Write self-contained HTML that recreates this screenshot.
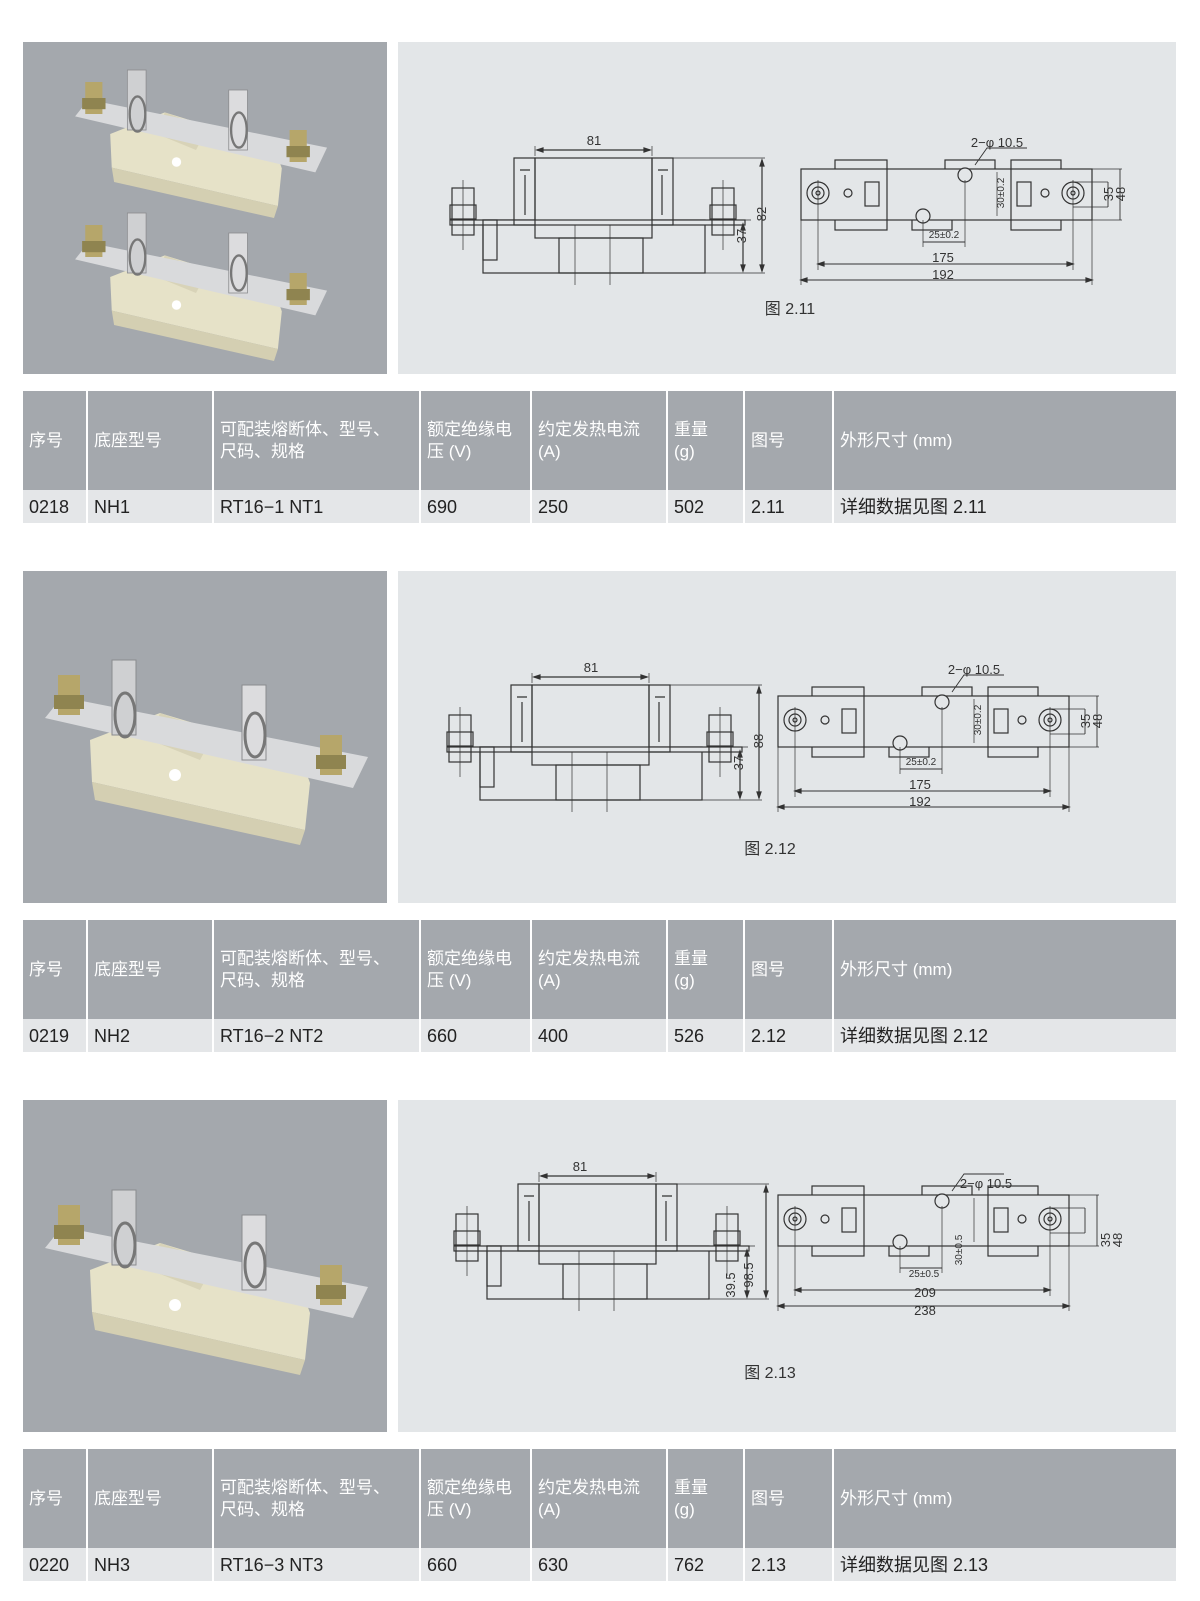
<!DOCTYPE html>
<html><head><meta charset="utf-8"><style>
body{margin:0;background:#fff;width:1200px;height:1601px;overflow:hidden;font-family:"Liberation Sans","Noto Sans CJK SC",sans-serif}
.ph{position:absolute;left:23px;width:364px;height:332px;background:#a4a8ad}
.dp{position:absolute;left:398px;width:778px;height:332px;background:#e3e6e8}
table{position:absolute;left:23px;width:1153px;border-collapse:collapse;table-layout:fixed}
td{border-left:2px solid #fff;padding:0 0 0 6px;vertical-align:middle;color:#fff;font-size:17px;line-height:22px;white-space:nowrap}
td:first-child{border-left:none}
tr.h td{background:#a4a8ad;height:99px}
tr.d td{background:#e4e6e8;height:33px;color:#222;font-size:18px}
svg{position:absolute;left:0;top:0}
</style></head><body>
<div class="ph" style="top:42px"></div><div class="dp" style="top:42px"></div>
<div class="ph" style="top:571px"></div><div class="dp" style="top:571px"></div>
<div class="ph" style="top:1100px"></div><div class="dp" style="top:1100px"></div>

<svg width="1200" height="1601" viewBox="0 0 1200 1601">
<defs>
<clipPath id="c1"><rect x="23" y="42" width="364" height="332"/></clipPath>
<g id="fz">
 <polygon points="90,740 160,713 300,755 310,783 305,830 92,782" fill="#e6e2c8"/>
 <polygon points="92,782 305,830 300,845 95,800" fill="#d4cfb2"/>
 <polygon points="160,713 215,732 200,760 150,740" fill="#d8d3b8"/>
 <circle cx="175" cy="775" r="6" fill="#fff"/><circle cx="230" cy="752" r="5" fill="#fff"/>
 <polygon points="45,718 62,697 368,757 353,788" fill="#d9dadc"/>
 <rect x="112" y="660" width="24" height="75" fill="#cfd0d2" stroke="#8a8b8e"/>
 <rect x="242" y="685" width="24" height="75" fill="#dcdcde" stroke="#8a8b8e"/>
 <ellipse cx="125" cy="715" rx="10" ry="22" fill="none" stroke="#777" stroke-width="3"/>
 <ellipse cx="255" cy="735" rx="10" ry="22" fill="none" stroke="#777" stroke-width="3"/>
 <rect x="58" y="675" width="22" height="40" fill="#b6a66a"/><rect x="54" y="695" width="30" height="14" fill="#8f8450"/>
 <rect x="320" y="735" width="22" height="40" fill="#b6a66a"/><rect x="316" y="755" width="30" height="14" fill="#8f8450"/>
</g>
<g id="lv" fill="none" stroke="#333" stroke-width="1.2">
 <rect x="83" y="100" width="222" height="53"/>
 <rect x="135" y="38" width="117" height="80" fill="#e3e6e8"/>
 <rect x="159" y="118" width="84" height="35"/>
 <rect x="50" y="100" width="295" height="5" fill="#e3e6e8"/>
 <rect x="114" y="38" width="21" height="67"/><rect x="252" y="38" width="21" height="67"/>
 <path d="M120 50h10M258 50h10M125 55v40M262 55v40"/>
 <rect x="52" y="68" width="22" height="47"/><rect x="312" y="68" width="22" height="47"/>
 <rect x="50" y="85" width="26" height="14"/><rect x="310" y="85" width="26" height="14"/>
 <rect x="83" y="100" width="14" height="40"/>
 <path d="M63 60v70M323 60v70M175 105v60M210 105v60" stroke-width="0.7"/>
 <path d="M135 36v-10M252 36v-10M273 38h92M305 153h60M345 100h6" stroke-width="0.7"/>
 <path d="M137 30h113M362 40v111M343 104v47"/>
 <path d="M137 30l6-2v4zM250 30l-6-2v4zM362 40l-2 6h4zM362 151l-2-6h4zM343 104l-2 6h4zM343 151l-2-6h4z" fill="#333"/>
</g>
<g id="rv" fill="none" stroke="#333" stroke-width="1.2">
 <rect x="435" y="40" width="52" height="70"/><rect x="611" y="40" width="50" height="70"/>
 <rect x="545" y="40" width="50" height="22"/><rect x="512" y="90" width="40" height="20"/>
 <rect x="401" y="49" width="291" height="51" fill="#e3e6e8"/>
 <path d="M487 49v51M611 49v51"/>
 <circle cx="418" cy="73" r="11"/><circle cx="418" cy="73" r="6"/><circle cx="418" cy="73" r="2"/>
 <circle cx="673" cy="73" r="11"/><circle cx="673" cy="73" r="6"/><circle cx="673" cy="73" r="2"/>
 <circle cx="448" cy="73" r="4"/><circle cx="645" cy="73" r="4"/>
 <rect x="465" y="62" width="14" height="24"/><rect x="617" y="62" width="14" height="24"/>
 <circle cx="565" cy="55" r="7" fill="#e3e6e8"/><circle cx="523" cy="96" r="7" fill="#e3e6e8"/>
 <path d="M418 60v90M673 60v90M401 100v65M692 49v116M523 100v27M565 60v67M597 52v44M692 49h30M692 100h30M673 62h35M673 87h35" stroke-width="0.7"/>
 <path d="M418 144h255M401 160h291M523 122h42M708 62v25M720 49v51M575 45l12-17h40" stroke-width="0.9"/>
 <path d="M418 144l6-2v4zM673 144l-6-2v4zM401 160l6-2v4zM692 160l-6-2v4z" fill="#333"/>
</g>
</defs>
<g clip-path="url(#c1)">
<g transform="translate(40,-458) scale(0.78,0.8)"><use href="#fz"/></g>
<g transform="translate(40,-315) scale(0.78,0.8)"><use href="#fz"/></g>
</g>
<use href="#fz"/>
<g transform="translate(0,530)"><use href="#fz"/></g>

<g transform="translate(400,120)"><use href="#lv"/><use href="#rv"/></g>
<g transform="translate(397,647)"><use href="#lv"/><use href="#rv" x="-20"/></g>
<g transform="translate(404,1146)"><use href="#lv"/><use href="#rv" x="-27"/></g>

<g font-family="Liberation Sans,sans-serif" fill="#333" font-size="13" text-anchor="middle">
 <text x="594" y="145">81</text><text x="997" y="147">2−φ 10.5</text>
 <text x="944" y="238" font-size="10">25±0.2</text><text x="943" y="262">175</text><text x="943" y="279">192</text>
 <text transform="translate(766,214) rotate(-90)">82</text><text transform="translate(746,236) rotate(-90)">37</text>
 <text transform="translate(1004,193) rotate(-90)" font-size="10">30±0.2</text>
 <text transform="translate(1113,194) rotate(-90)">35</text><text transform="translate(1125,194) rotate(-90)">48</text>
 <text x="591" y="672">81</text><text x="974" y="674">2−φ 10.5</text>
 <text x="921" y="765" font-size="10">25±0.2</text><text x="920" y="789">175</text><text x="920" y="806">192</text>
 <text transform="translate(763,741) rotate(-90)">88</text><text transform="translate(743,763) rotate(-90)">37</text>
 <text transform="translate(981,720) rotate(-90)" font-size="10">30±0.2</text>
 <text transform="translate(1090,721) rotate(-90)">35</text><text transform="translate(1102,721) rotate(-90)">48</text>
 <text x="580" y="1171">81</text><text x="986" y="1188">2−φ 10.5</text>
 <text x="924" y="1277" font-size="10">25±0.5</text><text x="925" y="1297">209</text><text x="925" y="1315">238</text>
 <text transform="translate(753,1275) rotate(-90)">98.5</text><text transform="translate(735,1285) rotate(-90)">39.5</text>
 <text transform="translate(962,1250) rotate(-90)" font-size="10">30±0.5</text>
 <text transform="translate(1110,1240) rotate(-90)">35</text><text transform="translate(1122,1240) rotate(-90)">48</text>
</g>
<g font-family="Liberation Sans,Noto Sans CJK SC,sans-serif" fill="#333" font-size="16" text-anchor="middle">
 <text x="790" y="314">图 2.11</text><text x="770" y="854">图 2.12</text><text x="770" y="1378">图 2.13</text>
</g>
</svg>

<table style="top:391px"><colgroup><col style="width:64px"><col style="width:126px"><col style="width:207px"><col style="width:111px"><col style="width:136px"><col style="width:77px"><col style="width:89px"><col></colgroup>
<tr class="h"><td>序号</td><td>底座型号</td><td>可配装熔断体、型号、<br>尺码、规格</td><td>额定绝缘电<br>压 (V)</td><td>约定发热电流<br>(A)</td><td>重量<br>(g)</td><td>图号</td><td>外形尺寸 (mm)</td></tr>
<tr class="d"><td>0218</td><td>NH1</td><td>RT16−1 NT1</td><td>690</td><td>250</td><td>502</td><td>2.11</td><td>详细数据见图 2.11</td></tr></table>
<table style="top:920px"><colgroup><col style="width:64px"><col style="width:126px"><col style="width:207px"><col style="width:111px"><col style="width:136px"><col style="width:77px"><col style="width:89px"><col></colgroup>
<tr class="h"><td>序号</td><td>底座型号</td><td>可配装熔断体、型号、<br>尺码、规格</td><td>额定绝缘电<br>压 (V)</td><td>约定发热电流<br>(A)</td><td>重量<br>(g)</td><td>图号</td><td>外形尺寸 (mm)</td></tr>
<tr class="d"><td>0219</td><td>NH2</td><td>RT16−2 NT2</td><td>660</td><td>400</td><td>526</td><td>2.12</td><td>详细数据见图 2.12</td></tr></table>
<table style="top:1449px"><colgroup><col style="width:64px"><col style="width:126px"><col style="width:207px"><col style="width:111px"><col style="width:136px"><col style="width:77px"><col style="width:89px"><col></colgroup>
<tr class="h"><td>序号</td><td>底座型号</td><td>可配装熔断体、型号、<br>尺码、规格</td><td>额定绝缘电<br>压 (V)</td><td>约定发热电流<br>(A)</td><td>重量<br>(g)</td><td>图号</td><td>外形尺寸 (mm)</td></tr>
<tr class="d"><td>0220</td><td>NH3</td><td>RT16−3 NT3</td><td>660</td><td>630</td><td>762</td><td>2.13</td><td>详细数据见图 2.13</td></tr></table>
</body></html>
